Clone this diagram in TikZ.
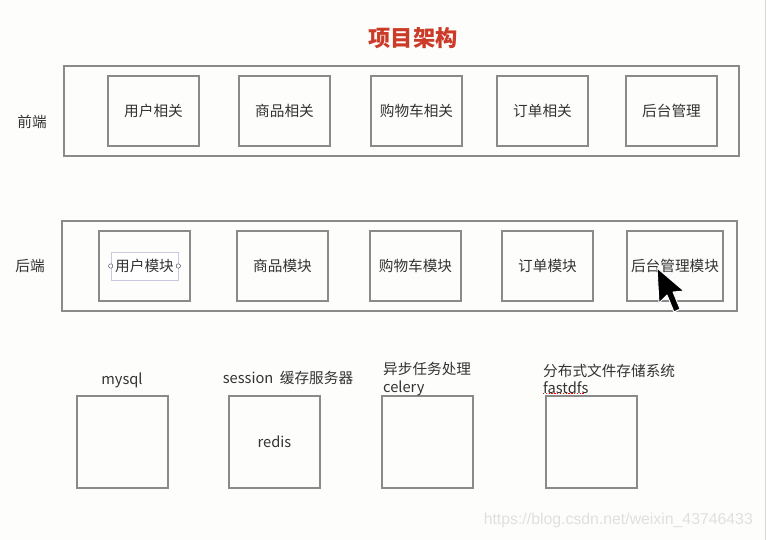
\documentclass[tikz,border=0pt]{standalone}
\usepackage{fontspec}
\setmainfont{Noto Sans CJK SC}
\newfontfamily\markfont{Liberation Sans}
\usepackage{tikz}

\definecolor{boxgray}{RGB}{138,138,138}
\definecolor{titlered}{RGB}{204,58,40}
\definecolor{paper}{RGB}{253,253,251}

\begin{document}
\begin{tikzpicture}[x=0.03cm, y=-0.03cm,
  every node/.style={font=\fontsize{12.5}{14}\selectfont, text=black!80},
  outerbox/.style={draw=boxgray, line width=1.2pt, minimum width=20.25cm, minimum height=2.7cm},
  innerbox/.style={draw=boxgray, line width=1.2pt, minimum width=2.73cm, minimum height=2.1cm},
  storebox/.style={draw=boxgray, line width=1pt, minimum width=2.73cm, minimum height=2.76cm}]

\fill[paper] (0,0) rectangle (767,540);
\useasboundingbox (0,0) rectangle (767,540);
\draw[black!15, line width=0.8pt] (765,0) -- (765,540);

\node (title) [font=\fontsize{19}{22}\selectfont\bfseries, text=titlered] at (413,38) {项目架构};

% front end
\node (front) [outerbox] at (401.5,111) {};
\node (frontlabel) at (32,122) {前端};
\node (fuser) [innerbox] at (153.5,111) {用户相关};
\node (fgoods) [innerbox] at (284.5,111) {商品相关};
\node (fcart) [innerbox] at (416.5,111) {购物车相关};
\node (forder) [innerbox] at (542.5,111) {订单相关};
\node (fadmin) [innerbox] at (671.5,111) {后台管理};

% back end
\node (back) [outerbox] at (399.5,266) {};
\node (backlabel) at (30,266) {后端};
\node (buser) [innerbox] at (144.5,266) {};
\node (bgoods) [innerbox] at (282.5,266) {商品模块};
\node (bcart) [innerbox] at (415.5,266) {购物车模块};
\node (border) [innerbox] at (547.5,266) {订单模块};
\node (badmin) [innerbox] at (675,266) {后台管理模块};

% selected text of the user module
\node (busertext) [draw={rgb,255:red,200;green,200;blue,225}, line width=0.5pt, fill=white,
  minimum width=2.01cm, minimum height=0.85cm, inner sep=0pt] at (144.5,266) {用户模块};
\draw[black!70, line width=0.4pt, fill=white] (busertext.west) circle [radius=2.2];
\draw[black!70, line width=0.4pt, fill=white] (busertext.east) circle [radius=2.2];

% storage
\node (mysql) [storebox] at (122.5,442) {};
\node (mysqllabel) at (122,380) {mysql};
\node (redis) [storebox] at (274.5,442) {redis};
\node (redislabel) at (288,378) {session\ \ 缓存服务器};
\node (celery) [storebox] at (427.5,442) {};
\node (celerylabel) [anchor=west, align=left, inner sep=0pt] at (383,379) {异步任务处理\\[1pt]celery};
\node (fastdfs) [storebox] at (591.5,442) {};
\node (fastdfslabel) [anchor=west, align=left, inner sep=0pt] at (543,379) {分布式文件存储系统\\[1pt]fastdfs};
\draw[red, line width=1pt, dash pattern=on 1.2pt off 1.2pt] (543,393.5) -- (585,393.5);

% pointer
\filldraw[fill=black, draw=white, line width=0.8pt, line join=round]
  (657,268) -- (659,303) -- (667,295) -- (674,312) -- (680,309) -- (673,292) -- (684,291) -- cycle;

\node (mark) [font=\markfont\fontsize{13.5}{15}\selectfont, text=black!12, anchor=east] at (757,520) {https://blog.csdn.net/weixin\_43746433};

\end{tikzpicture}
\end{document}
